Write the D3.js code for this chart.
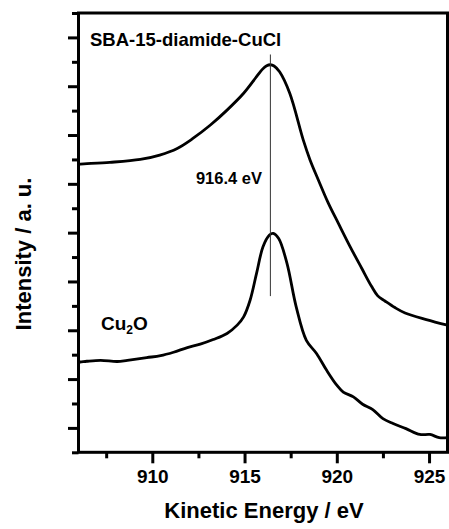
<!DOCTYPE html>
<html>
<head>
<meta charset="utf-8">
<script src="https://cdn.jsdelivr.net/npm/d3@7"></script>
<style>
  html, body { margin: 0; padding: 0; background: #fff; }
  svg { display: block; font-family: "Liberation Sans", Arial, sans-serif; }
</style>
</head>
<body>
<svg id="chart" width="449" height="529"></svg>
<script>
// ---- data (kinetic energy in eV, intensity in arbitrary units) ----
const sbaEnergy = [906.0, 906.1, 907.7, 909.35, 910.4, 911.35, 912.2, 913.15, 914.05, 914.95, 915.65, 915.95, 916.2, 916.4, 916.6, 916.9, 917.45, 918.18, 918.55, 919.0, 919.54, 920.08, 920.72, 921.35, 921.89, 922.22, 922.61, 923.15, 923.7, 924.85, 926.0];
const sbaIntensity = [11.8, 11.81, 11.88, 12.0, 12.18, 12.45, 12.86, 13.41, 14.02, 14.71, 15.39, 15.68, 15.84, 15.88, 15.83, 15.59, 14.71, 12.8, 11.98, 11.16, 10.21, 9.39, 8.43, 7.54, 6.79, 6.41, 6.2, 5.93, 5.71, 5.44, 5.21];

const cu2oEnergy = [906.0, 906.1, 906.45, 907.2, 908.1, 908.65, 909.7, 910.45, 911.15, 911.9, 912.6, 913.3, 914.05, 914.6, 914.95, 915.3, 915.65, 916.0, 916.35, 916.55, 916.85, 917.3, 917.8, 918.35, 918.9, 919.45, 920.0, 920.35, 920.9, 921.4, 921.95, 922.5, 923.05, 923.75, 924.5, 925.05, 925.55, 926.0];
const cu2oIntensity = [3.7, 3.7, 3.73, 3.77, 3.72, 3.77, 3.88, 3.96, 4.1, 4.29, 4.43, 4.62, 4.87, 5.21, 5.55, 6.23, 7.33, 8.42, 8.9, 8.97, 8.76, 7.74, 5.96, 4.59, 4.05, 3.36, 2.75, 2.47, 2.27, 1.97, 1.75, 1.38, 1.18, 0.97, 0.73, 0.73, 0.6, 0.6];

const xMajorTicks = [910, 915, 920, 925];
const xMinorTicks = [907.5, 912.5, 917.5, 922.5];
const yMajorTicks = [1, 3, 5, 7, 9, 11, 13, 15, 17];
const yMinorTicks = [0, 2, 4, 6, 8, 10, 12, 14, 16, 18];
const peakEnergy = 916.4;
const peakLineSpan = [6.4, 16.3];   // intensity range of the marker line
const xDomain = [906, 926];
const yDomain = [0, 18];

// ---- layout ----
const svg = d3.select("#chart");
const mLeft = 78.5, mRight = 447.5, mTop = 13, mBottom = 452.3;

const x = d3.scaleLinear().domain(xDomain).range([mLeft, mRight]);
const y = d3.scaleLinear().domain(yDomain).range([mBottom, mTop]);

// curves
const line = d3.line().x((d) => x(d[0])).y((d) => y(d[1])).curve(d3.curveCatmullRom.alpha(0.5));
svg.append("clipPath").attr("id", "clip").append("rect")
  .attr("x", mLeft).attr("y", mTop).attr("width", mRight - mLeft).attr("height", mBottom - mTop);

const plot = svg.append("g").attr("clip-path", "url(#clip)");
plot.append("path")
  .datum(sbaEnergy.map((e, i) => [e, sbaIntensity[i]]))
  .attr("d", line).attr("fill", "none").attr("stroke", "#000").attr("stroke-width", 2.8)
  .attr("stroke-linejoin", "round");
plot.append("path")
  .datum(cu2oEnergy.map((e, i) => [e, cu2oIntensity[i]]))
  .attr("d", line).attr("fill", "none").attr("stroke", "#000").attr("stroke-width", 2.8)
  .attr("stroke-linejoin", "round");

// peak marker line
svg.append("line")
  .attr("x1", x(peakEnergy)).attr("x2", x(peakEnergy))
  .attr("y1", y(peakLineSpan[1])).attr("y2", y(peakLineSpan[0]))
  .attr("stroke", "#333").attr("stroke-width", 1);

// axes
const xAxisMajor = d3.axisBottom(x).tickValues(xMajorTicks).tickSize(11).tickFormat(d3.format("d"));
const xAxisMinor = d3.axisBottom(x).tickValues(xMinorTicks).tickSize(6).tickFormat("");
const yAxisMajor = d3.axisLeft(y).tickValues(yMajorTicks).tickSize(10.5).tickFormat("");
const yAxisMinor = d3.axisLeft(y).tickValues(yMinorTicks).tickSize(6.5).tickFormat("");

function styleAxis(g) {
  g.select(".domain").remove();
  g.selectAll(".tick line").attr("stroke", "#000").attr("stroke-width", 3);
}
const gx = svg.append("g").attr("transform", `translate(0,${mBottom})`).call(xAxisMajor).call(styleAxis);
gx.selectAll(".tick text")
  .attr("fill", "#000").attr("font-size", 19).attr("font-weight", "bold")
  .attr("font-family", "Liberation Sans, Arial, sans-serif").attr("dy", "0.88em");
svg.append("g").attr("transform", `translate(0,${mBottom})`).call(xAxisMinor).call(styleAxis);
svg.append("g").attr("transform", `translate(${mLeft},0)`).call(yAxisMajor).call(styleAxis);
svg.append("g").attr("transform", `translate(${mLeft},0)`).call(yAxisMinor).call(styleAxis);

// frame
svg.append("rect")
  .attr("x", mLeft).attr("y", mTop).attr("width", mRight - mLeft).attr("height", mBottom - mTop)
  .attr("fill", "none").attr("stroke", "#000").attr("stroke-width", 3);

// labels
svg.append("text").attr("x", (160 + 368) / 2).attr("y", 517.5)
  .attr("text-anchor", "middle").attr("font-size", 22).attr("font-weight", "bold")
  .text("Kinetic Energy / eV");
svg.append("text").attr("transform", "translate(31,254) rotate(-90)")
  .attr("text-anchor", "middle").attr("font-size", 22).attr("font-weight", "bold")
  .text("Intensity / a. u.");

svg.append("text").attr("x", 90).attr("y", 46)
  .attr("font-size", 18.5).attr("font-weight", "bold")
  .text("SBA-15-diamide-CuCl");
svg.append("text").attr("x", 262).attr("y", 184).attr("text-anchor", "end")
  .attr("font-size", 16.5).attr("font-weight", "bold")
  .text("916.4 eV");
const cu = svg.append("text").attr("x", 101).attr("y", 330)
  .attr("font-size", 19).attr("font-weight", "bold");
cu.append("tspan").text("Cu");
cu.append("tspan").attr("font-size", 12).attr("dy", 4).text("2");
cu.append("tspan").attr("dy", -4).text("O");
</script>
</body>
</html>
